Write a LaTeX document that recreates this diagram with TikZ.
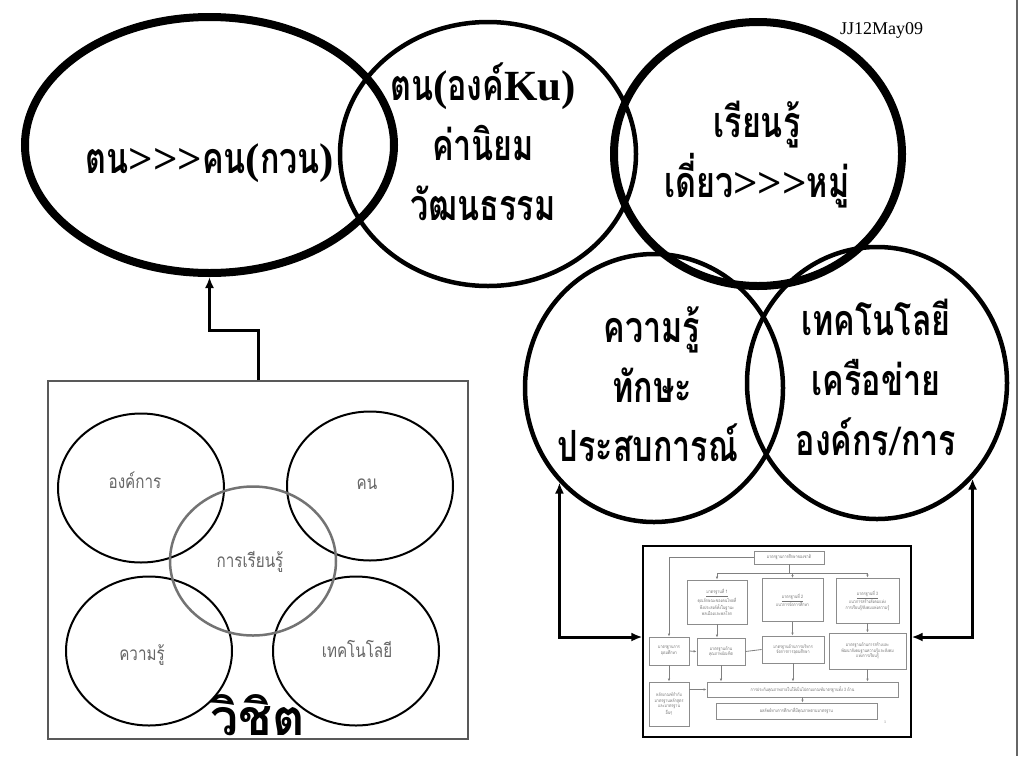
\documentclass[tikz,border=0pt]{standalone}
\usepackage{fontspec}
\setmainfont{Liberation Serif}
\newfontfamily\thaifont[Script=Thai,FakeStretch=0.75]{Loma}
\newfontfamily\thaismall[Script=Thai,FakeStretch=0.8]{Loma}
\newfontfamily\thaiwide[Script=Thai]{Loma}
\newfontfamily\latfont{Liberation Serif}
\usetikzlibrary{shapes.geometric,arrows.meta,calc}
\newcommand\latx[1]{{\latfont\bfseries #1}}
\begin{document}
\begin{tikzpicture}[x=1pt,y=-1pt,
  ell/.style={draw, ellipse, inner sep=0pt},
  bigtxt/.style={font={\thaifont\bfseries\fontsize{43}{50}\selectfont}, anchor=base, inner sep=0pt},
  smalltxt/.style={font={\thaismall\fontsize{19}{22}\selectfont}, text=black!60, anchor=base, inner sep=0pt},
  mini/.style={draw=black!45, line width=0.8pt, inner sep=0.5pt, align=center,
    font={\thaismall\fontsize{4.6}{5.6}\selectfont}, text=black!55},
  marr/.style={line width=3pt, -{Latex[length=11pt,width=9pt]}},
  darr/.style={line width=3pt, {Latex[length=11pt,width=9pt]}-{Latex[length=11pt,width=9pt]}},
  farr/.style={draw=black!50, line width=0.8pt, -{Latex[length=3pt,width=2.5pt]}},
  fline/.style={draw=black!50, line width=0.8pt}
]
\useasboundingbox (0,0) rectangle (1020,756);
\fill[white] (0,0) rectangle (1020,756);
\draw[black!60, line width=1.5pt] (1017,0) -- (1017,756);

% top ellipses
\node[ell, line width=4.5pt, minimum width=296pt, minimum height=264pt] (e2) at (488,154) {};
\node[ell, line width=4.5pt, minimum width=258pt, minimum height=268pt] (c4) at (654,388) {};
\node[ell, line width=4.5pt, minimum width=260pt, minimum height=272pt] (c5) at (877,383) {};
\node[ell, line width=8pt, minimum width=369pt, minimum height=256pt] (e1) at (209.5,145) {};
\node[ell, line width=8pt, minimum width=288pt, minimum height=264pt] (e3) at (758,154) {};

\node[font={\latfont\fontsize{18}{20}\selectfont}, anchor=base west, inner sep=0pt] (jj) at (840,34) {JJ12May09};

% texts
\node[bigtxt] (t1) at (210,173) {ตน\latx{>>>}คน\latx{(}กวน\latx{)}};
\node[bigtxt] (t2a) at (483,100) {ตน\latx{(}องค์\latx{Ku)}};
\node[bigtxt] (t2b) at (483,160) {ค่านิยม};
\node[bigtxt] (t2c) at (483,220) {วัฒนธรรม};
\node[bigtxt] (t3a) at (757,137) {เรียนรู้};
\node[bigtxt] (t3b) at (757,197) {เดี่ยว\latx{>>>}หมู่};
\node[bigtxt] (t4a) at (652,342) {ความรู้};
\node[bigtxt] (t4b) at (652,402) {ทักษะ};
\node[bigtxt] (t4c) at (648,461) {ประสบการณ์};
\node[bigtxt] (t5a) at (876,335) {เทคโนโลยี};
\node[bigtxt] (t5b) at (876,395) {เครือข่าย};
\node[bigtxt] (t5c) at (876,455) {องค์กร\latx{/}การ};

% left picture
\node[draw=black!65, line width=1.2pt, minimum width=420pt, minimum height=358pt, inner sep=0pt] (limg) at (258,560) {};
\node[ell, line width=2pt, minimum width=166pt, minimum height=149pt] (o1) at (141,488) {};
\node[ell, line width=2pt, minimum width=166pt, minimum height=149pt] (o2) at (370,486) {};
\node[ell, line width=2pt, minimum width=166pt, minimum height=149pt] (o4) at (149,651) {};
\node[ell, line width=2pt, minimum width=166pt, minimum height=149pt] (o5) at (356,651) {};
\node[ell, draw=black!55, line width=2.5pt, minimum width=166pt, minimum height=149pt] (o3) at (253,561) {};
\node[smalltxt] (l1) at (135,488) {องค์การ};
\node[smalltxt] (l2) at (367,489) {คน};
\node[smalltxt] (l3) at (250,567) {การเรียนรู้};
\node[smalltxt] (l4) at (142,660) {ความรู้};
\node[smalltxt] (l5) at (357,657) {เทคโนโลยี};
\node[font={\thaiwide\bfseries\fontsize{50}{56}\selectfont}, anchor=base, inner sep=0pt] (vc) at (258,735) {วิชิต};

% arrow to e1
\draw[marr] (limg.north) -- ++(0,-50) -| (e1.south);

% right flowchart picture
\node[draw=black, line width=1.2pt, minimum width=268pt, minimum height=191pt, inner sep=0pt] (flow) at (777,641.5) {};
\node[mini, minimum width=70pt, minimum height=13pt] (fT) at (789,557.5) {มาตรฐานการศึกษาของชาติ};
\node[mini, minimum width=60pt, minimum height=44pt] (fA) at (717,602) {\underline{มาตรฐานที่ 1}\\คุณลักษณะของคนไทยที่\\พึงประสงค์ทั้งในฐานะ\\พลเมืองและพลโลก};
\node[mini, minimum width=61pt, minimum height=43pt, anchor=north] (fB) at (792.5,578) {\underline{มาตรฐานที่ 2}\\แนวการจัดการศึกษา};
\node[mini, minimum width=63pt, minimum height=45pt] (fC) at (867.5,600.5) {\underline{มาตรฐานที่ 3}\\แนวการสร้างสังคมแห่ง\\การเรียนรู้/สังคมแห่งความรู้};
\node[mini, minimum width=40pt, minimum height=28pt] (fD) at (669,651) {มาตรฐานการ\\อุดมศึกษา};
\node[mini, minimum width=48pt, minimum height=27pt] (fE) at (721,651.5) {มาตรฐานด้าน\\คุณภาพบัณฑิต};
\node[mini, minimum width=62pt, minimum height=27pt] (fF) at (793,649.5) {มาตรฐานด้านการบริหาร\\จัดการการอุดมศึกษา};
\node[mini, minimum width=77pt, minimum height=36pt] (fG) at (867.5,651) {มาตรฐานด้านการสร้างและ\\พัฒนาสังคมฐานความรู้และสังคม\\แห่งการเรียนรู้};
\node[mini, minimum width=40pt, minimum height=44pt] (fH) at (669,704) {หลักเกณฑ์กำกับ\\มาตรฐานหลักสูตร\\และมาตรฐาน\\อื่นๆ};
\node[mini, minimum width=191pt, minimum height=15pt] (fI) at (802.5,689.5) {การประกันคุณภาพภายในให้เป็นไปตามเกณฑ์มาตรฐานทั้ง 3 ด้าน};
\node[mini, minimum width=161pt, minimum height=16pt] (fJ) at (796.5,711) {ผลลัพธ์ทางการศึกษาที่มีคุณภาพตามมาตรฐาน};
\node[font={\latfont\fontsize{4}{4}\selectfont}, text=black!55, inner sep=0pt] (pg) at (885,722) {1};

\coordinate (bus) at (789,573);
\draw[fline] (fT.south) -- (bus);
\draw[farr] (bus) -| (fA.north);
\draw[farr] (bus) -| (fC.north);
\draw[farr] (bus -| fB.north) -- (fB.north);
\draw[farr] (fT.west) -| (fD.north);
\draw[farr] (fA.south) -- (fA.south |- fE.north);
\draw[farr] (fB.south) -- (fB.south |- fF.north);
\draw[farr] (fC.south) -- (fC.south |- fG.north);
\draw[farr] (fD.east) -- (fE.west);
\draw[fline] (fE.east) -- (fF.west);
\draw[farr] (fD.south) -- (fH.north);
\draw[farr] (fE.south) -- (fE.south |- fI.north);
\draw[farr] (fF.south) -- (fF.south |- fI.north);
\draw[farr] (fG.south) -- (fG.south |- fI.north);
\draw[farr] (fH.east |- fI.west) -- (fI.west);
\draw[farr] (fI.south) -- (fI.south |- fJ.north);

% double arrows to the right picture
\draw[darr] (c4.225) |- ([yshift=4.5pt]flow.west);
\draw[darr] (c5.-45) |- ([yshift=4.5pt]flow.east);
\end{tikzpicture}
\end{document}
